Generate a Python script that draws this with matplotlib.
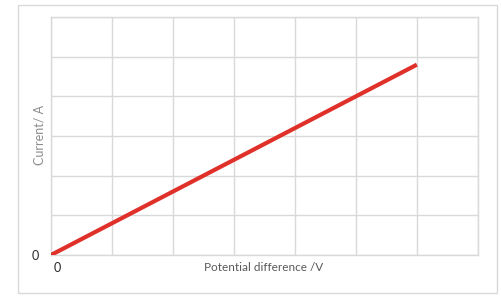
import matplotlib
matplotlib.use("Agg")
import matplotlib.pyplot as plt
import matplotlib.transforms as mtransforms
from matplotlib.patches import Rectangle

# data (grid units)
potential = [0, 6]
current = [0, 4.8]
x_ticks = list(range(8))
y_ticks = list(range(7))

plt.rcParams['font.family'] = ['Lato', 'DejaVu Sans']

fig = plt.figure(figsize=(5.01, 3.05), dpi=100)
fig.patch.set_facecolor('white')

# outer chart border
fig.patches.append(Rectangle((0.036, 0.039), 0.956, 0.945, transform=fig.transFigure,
                             fill=False, edgecolor='#d9d9d9', linewidth=1))

ax = fig.add_axes([0.1018, 0.164, 0.852, 0.780])
ax.plot(potential, current, color='#e0302a', linewidth=3, solid_capstyle='butt', zorder=3)

ax.set_xlim(0, 7)
ax.set_ylim(0, 6)
ax.set_xticks(x_ticks)
ax.set_yticks(y_ticks)
ax.set_xticklabels(['0'] + [''] * (len(x_ticks) - 1))
ax.set_yticklabels(['0'] + [''] * (len(y_ticks) - 1))
ax.tick_params(length=0, labelsize=9, labelcolor='#262626')
ax.tick_params(axis='x', pad=5)
ax.tick_params(axis='y', pad=9)
for lab in ax.get_xticklabels():
    lab.set_transform(lab.get_transform() + mtransforms.ScaledTranslation(0.06, 0, fig.dpi_scale_trans))

ax.grid(True, color='#d9d9d9', linewidth=1)
for s in ax.spines.values():
    s.set_color('#d9d9d9')
    s.set_linewidth(1)

ax.set_xlabel('Potential difference /V', fontsize=8.5, color='#595959')
ax.xaxis.set_label_coords(0.497, -0.03, transform=ax.transAxes)
ax.xaxis.label.set_va('top')
ax.set_ylabel('Current/ A', fontsize=9, color='#8c8c8c')
ax.yaxis.set_label_coords(-0.012, 0.504)

fig.savefig('out.png', dpi=100)
